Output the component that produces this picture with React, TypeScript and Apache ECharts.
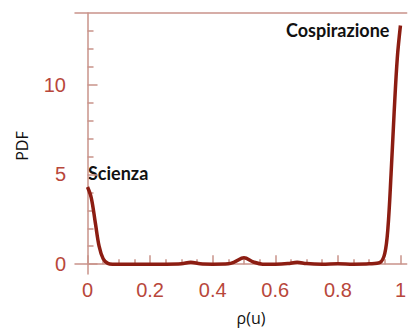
import React, { useEffect, useRef } from "react";
import * as echarts from "echarts";

const xValues = [0, 0.012, 0.025, 0.037, 0.05, 0.065, 0.08, 0.1, 0.15, 0.2, 0.25, 0.3, 0.33, 0.36, 0.4, 0.45, 0.47, 0.5, 0.53, 0.56, 0.6, 0.64, 0.67, 0.7, 0.75, 0.8, 0.85, 0.9, 0.935, 0.95, 0.96, 0.97, 0.98, 0.99, 1.0];
const pdfValues = [4.3, 3.7, 2.3, 1.0, 0.3, 0.04, 0.0, 0, 0, 0, 0, 0.02, 0.1, 0.02, 0, 0.02, 0.12, 0.35, 0.12, 0, 0, 0.03, 0.1, 0.03, 0, 0.02, 0, 0.02, 0.1, 0.6, 2.0, 5.0, 8.5, 11.5, 13.3];
const xMajorTicks = [0, 0.2, 0.4, 0.6, 0.8, 1];
const xMinorTicks = [0.05, 0.1, 0.15, 0.25, 0.3, 0.35, 0.45, 0.5, 0.55, 0.65, 0.7, 0.75, 0.85, 0.9, 0.95];
const yMajorTicks = [0, 5, 10];
const yMinorTicks = [1, 2, 3, 4, 6, 7, 8, 9, 11, 12, 13];
const annotations = [
  { text: "Scienza", x: 88, y: 173 },
  { text: "Cospirazione", x: 286, y: 30 },
];

const AXIS = "#c9938a";
const LABEL = "#b8473b";
const LINE = "#8c1d12";

export default function App() {
  const ref = useRef<HTMLDivElement>(null);
  useEffect(() => {
    const chart = echarts.init(ref.current!, null, { renderer: "svg" });
    const data = xValues.map((x, i) => [x, pdfValues[i]]);
    const labelFont = { color: LABEL, fontSize: 20, fontFamily: "Liberation Sans, Arial, sans-serif" };
    chart.setOption({
      animation: false,
      grid: { left: 75, right: 0, top: 13, bottom: 54, containLabel: false },
      xAxis: [
        {
          type: "value", min: -0.04, max: 1.02, position: "bottom",
          axisLine: { show: true, lineStyle: { color: AXIS, width: 1.5 } },
          axisTick: { show: true, inside: true, length: 9, customValues: xMajorTicks, lineStyle: { color: AXIS, width: 1.5 } },
          axisLabel: { show: true, customValues: xMajorTicks, margin: 6, ...labelFont, formatter: (v: number) => String(+v.toFixed(1)) },
          splitLine: { show: false },
        },
        {
          type: "value", min: -0.04, max: 1.02, position: "bottom",
          axisLine: { show: false },
          axisTick: { show: true, inside: true, length: 5, customValues: xMinorTicks, lineStyle: { color: AXIS, width: 1.5 } },
          axisLabel: { show: false },
          splitLine: { show: false },
        },
        {
          type: "value", min: -0.04, max: 1.02, position: "top",
          axisLine: { show: true, lineStyle: { color: AXIS, width: 1.5 } },
          axisTick: { show: false },
          axisLabel: { show: false },
          splitLine: { show: false },
        },
      ],
      yAxis: [
        {
          type: "value", min: -0.55, max: 14, position: "left",
          axisLine: { show: true, lineStyle: { color: AXIS, width: 1.5 } },
          axisTick: { show: true, inside: true, length: 10, customValues: yMajorTicks, lineStyle: { color: AXIS, width: 1.5 } },
          axisLabel: { show: true, customValues: yMajorTicks, margin: 9, ...labelFont },
          splitLine: { show: false },
        },
        {
          type: "value", min: -0.55, max: 14, position: "left",
          axisLine: { show: false },
          axisTick: { show: true, inside: true, length: 6, customValues: yMinorTicks, lineStyle: { color: AXIS, width: 1.5 } },
          axisLabel: { show: false },
          splitLine: { show: false },
        },
      ],
      series: [
        {
          type: "line", data, xAxisIndex: 0, yAxisIndex: 0,
          smooth: 0.35, showSymbol: false,
          lineStyle: { color: LINE, width: 3.5 },
        },
      ],
      graphic: [
        ...annotations.map((a) => ({
          type: "text", x: a.x, y: a.y,
          style: { text: a.text, fill: "#111", font: "bold 18px Lato, 'Open Sans', sans-serif", textVerticalAlign: "middle" },
        })),
        {
          type: "text", x: 22, y: 146, rotation: Math.PI / 2,
          style: { text: "PDF", fill: "#111", font: "16px 'Open Sans', sans-serif", textAlign: "center", textVerticalAlign: "middle" },
        },
        {
          type: "text", x: 251, y: 318,
          style: { text: "ρ(u)", fill: "#111", font: "16px 'Open Sans', sans-serif", textAlign: "center", textVerticalAlign: "middle" },
        },
      ],
    });
    return () => chart.dispose();
  }, []);
  return <div ref={ref} style={{ position: "fixed", left: 0, top: 0, width: 409, height: 328, background: "#fff" }} />;
}
